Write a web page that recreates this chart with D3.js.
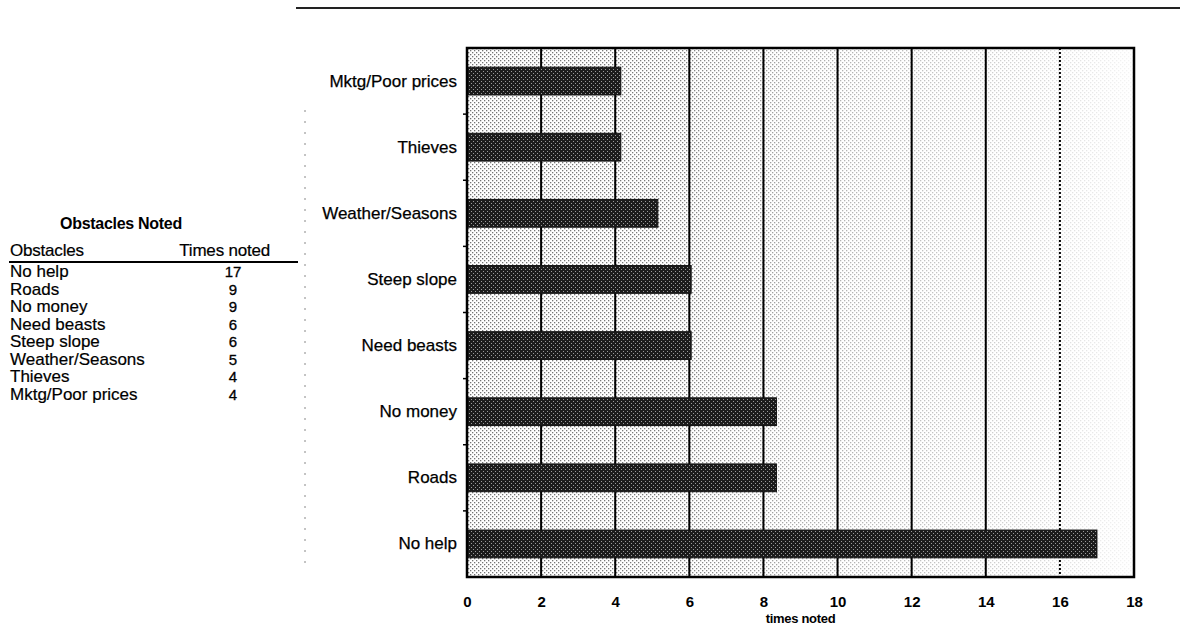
<!DOCTYPE html>
<html><head><meta charset="utf-8">
<script src="https://cdn.jsdelivr.net/npm/d3@7"></script>
<style>
html,body{margin:0;padding:0;background:#fff;}
svg{display:block;font-family:"Liberation Sans",Arial,sans-serif;}
</style></head>
<body>
<svg id="chart" width="1180" height="642"></svg>
<script>
// ---- data ----
const categories = ["No help","Roads","No money","Need beasts","Steep slope","Weather/Seasons","Thieves","Mktg/Poor prices"];
const timesNoted = [17, 9, 9, 6, 6, 5, 4, 4];               // values printed in the table
const barLengths = [17, 8.35, 8.35, 6.05, 6.05, 5.15, 4.15, 4.15]; // bar ends
const xTicks = [0,2,4,6,8,10,12,14,16,18];
const tableTitle = "Obstacles Noted";
const tableHeaders = ["Obstacles","Times noted"];
const xTitle = "times noted";

const svg = d3.select("#chart");
const W = 1180, H = 642;
const m = {left:467, right:1134, top:48, bottom:577};
const LBL = 17;

const defs = svg.append("defs");
// background stipple
const bg = defs.append("pattern").attr("id","bgdots").attr("patternUnits","userSpaceOnUse").attr("width",4).attr("height",4);
bg.append("rect").attr("width",4).attr("height",4).attr("fill","#fff");
bg.append("rect").attr("x",0).attr("y",0).attr("width",1.3).attr("height",1.3).attr("fill","#444");
bg.append("rect").attr("x",2).attr("y",2).attr("width",1.3).attr("height",1.3).attr("fill","#444");
// bar stipple
const bp = defs.append("pattern").attr("id","bardots").attr("patternUnits","userSpaceOnUse").attr("width",4).attr("height",4);
bp.append("rect").attr("width",4).attr("height",4).attr("fill","#1c1c1c");
bp.append("rect").attr("x",1).attr("y",1).attr("width",1).attr("height",1).attr("fill","#9a9a9a");
bp.append("rect").attr("x",3).attr("y",3).attr("width",1).attr("height",1).attr("fill","#9a9a9a");
// fade gradient
const gr = defs.append("linearGradient").attr("id","fade").attr("x1","0").attr("x2","1").attr("y1","0").attr("y2","0");
gr.append("stop").attr("offset","0").attr("stop-color","#fff").attr("stop-opacity",0.25);
gr.append("stop").attr("offset","0.3").attr("stop-color","#fff").attr("stop-opacity",0.3);
gr.append("stop").attr("offset","0.5").attr("stop-color","#fff").attr("stop-opacity",0.55);
gr.append("stop").attr("offset","0.85").attr("stop-color","#fff").attr("stop-opacity",0.78);
gr.append("stop").attr("offset","1").attr("stop-color","#fff").attr("stop-opacity",0.95);

const x = d3.scaleLinear().domain([0,18]).range([m.left, m.right]);
const y = d3.scaleBand().domain(categories.slice().reverse()).range([m.top, m.bottom]).paddingInner(0.58).paddingOuter(0.29);
const yb = d3.scaleBand().domain(categories.slice().reverse()).range([m.top, m.bottom]);

// top rule
svg.append("line").attr("x1",296).attr("x2",W).attr("y1",8).attr("y2",8).attr("stroke","#222").attr("stroke-width",2);
// faint dotted divider
svg.append("line").attr("x1",305).attr("x2",305).attr("y1",110).attr("y2",570)
  .attr("stroke","#888").attr("stroke-width",1).attr("stroke-dasharray","2,9");

// plot background
svg.append("rect").attr("x",m.left).attr("y",m.top).attr("width",m.right-m.left).attr("height",m.bottom-m.top).attr("fill","url(#bgdots)");
svg.append("rect").attr("x",m.left).attr("y",m.top).attr("width",m.right-m.left).attr("height",m.bottom-m.top).attr("fill","url(#fade)");

// gridlines
svg.append("g").selectAll("line").data(xTicks.filter(t=>t>0 && t<18)).join("line")
  .attr("x1",d=>x(d)).attr("x2",d=>x(d)).attr("y1",m.top).attr("y2",m.bottom)
  .attr("stroke","#000").attr("stroke-width",2)
  .attr("stroke-dasharray",d=> d===16 ? "2,2" : null);

// bars
svg.append("g").selectAll("rect").data(categories).join("rect")
  .attr("x",x(0)).attr("y",d=>y(d)).attr("height",y.bandwidth())
  .attr("width",(d,i)=>x(barLengths[i])-x(0))
  .attr("fill","url(#bardots)").attr("stroke","#111").attr("stroke-width",1);

// frame
svg.append("rect").attr("x",m.left).attr("y",m.top).attr("width",m.right-m.left).attr("height",m.bottom-m.top)
  .attr("fill","none").attr("stroke","#000").attr("stroke-width",2.5);

// y axis
const yAxis = svg.append("g").attr("transform",`translate(${m.left},0)`)
  .call(d3.axisLeft(y).tickSize(0).tickPadding(10));
yAxis.select(".domain").remove();
yAxis.selectAll("text").attr("font-size",LBL).attr("letter-spacing","0").attr("fill","#000")
  .attr("stroke","#000").attr("stroke-width",0.25);
// small band boundary ticks
svg.append("g").selectAll("line").data(categories.slice(0,7)).join("line")
  .attr("x1",m.left-4).attr("x2",m.left).attr("y1",d=>yb(d)).attr("y2",d=>yb(d))
  .attr("stroke","#000").attr("stroke-width",1.5);

// x axis
const xAxis = svg.append("g").attr("transform",`translate(0,${m.bottom})`)
  .call(d3.axisBottom(x).tickValues(xTicks).tickSize(0).tickPadding(19));
xAxis.select(".domain").remove();
xAxis.selectAll("text").attr("font-size",15).attr("font-weight","bold").attr("fill","#000");
svg.append("text").attr("x",(m.left+m.right)/2).attr("y",623).attr("text-anchor","middle")
  .attr("font-size",13).attr("font-weight","bold").attr("letter-spacing","-0.3").text(xTitle);

// table
const tbl = svg.append("g");
tbl.append("text").attr("x",121).attr("y",229).attr("text-anchor","middle").attr("font-size",16)
  .attr("font-weight","bold").attr("letter-spacing","-0.3").text(tableTitle);
tbl.append("text").attr("x",10).attr("y",256).attr("font-size",LBL).attr("letter-spacing","-0.2")
  .attr("stroke","#000").attr("stroke-width",0.2).text(tableHeaders[0]);
tbl.append("text").attr("x",270).attr("y",256).attr("text-anchor","end").attr("font-size",LBL).attr("letter-spacing","-0.2")
  .attr("stroke","#000").attr("stroke-width",0.2).text(tableHeaders[1]);
tbl.append("line").attr("x1",9).attr("x2",298).attr("y1",262).attr("y2",262).attr("stroke","#000").attr("stroke-width",2);
const rowY = d3.scaleLinear().domain([0,7]).range([277, 400]);
tbl.selectAll("text.name").data(categories).join("text").attr("class","name")
  .attr("x",10).attr("y",(d,i)=>rowY(i)).attr("font-size",LBL).attr("letter-spacing","0")
  .attr("stroke","#000").attr("stroke-width",0.2).text(d=>d);
tbl.selectAll("text.val").data(timesNoted).join("text").attr("class","val")
  .attr("x",233).attr("y",(d,i)=>rowY(i)).attr("text-anchor","middle").attr("font-size",15)
  .attr("stroke","#000").attr("stroke-width",0.3).text(d=>d);
</script>
</body></html>
